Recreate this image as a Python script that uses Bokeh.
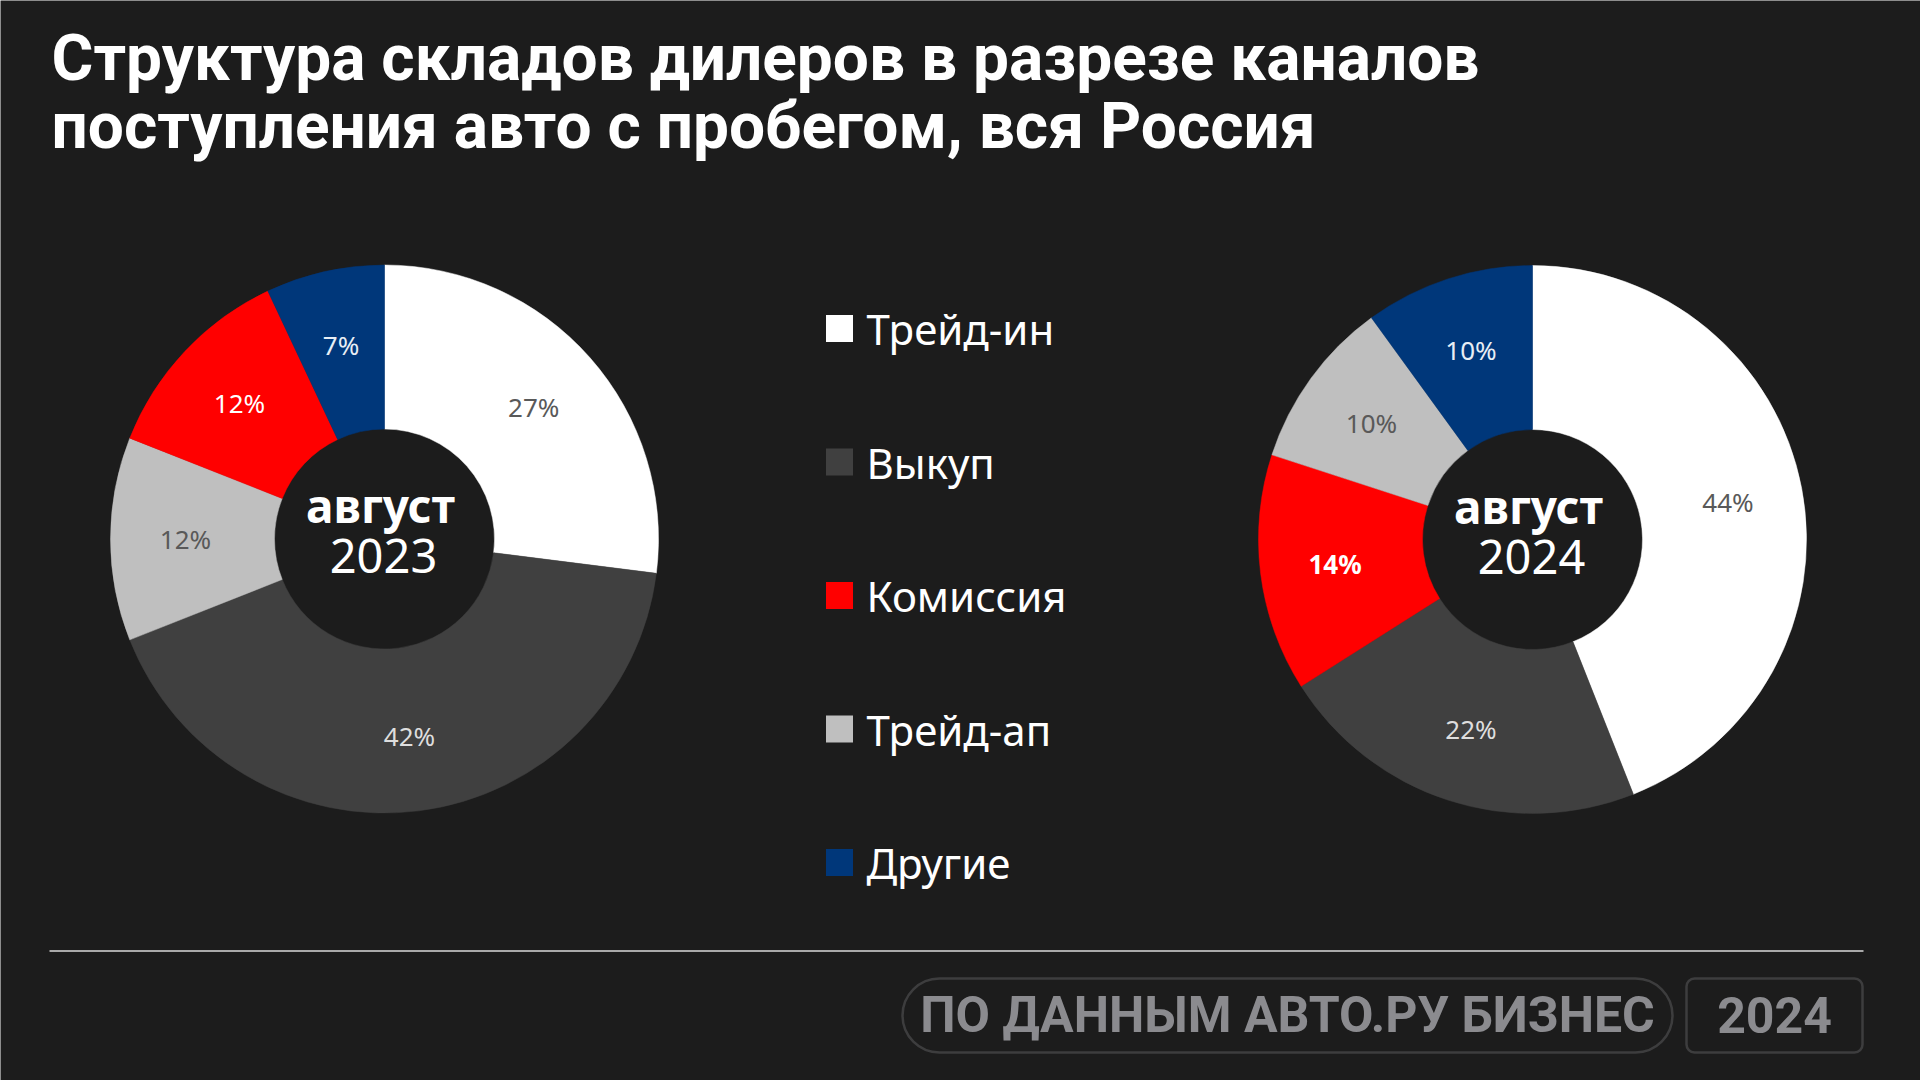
import numpy as np
from bokeh.core.properties import value
from bokeh.embed import file_html
from bokeh.models import BoxAnnotation, ColumnDataSource, Range1d
from bokeh.plotting import figure
from bokeh.resources import INLINE

# categories in legend order
categories = ["Трейд-ин", "Выкуп", "Комиссия", "Трейд-ап", "Другие"]
colors = ["#ffffff", "#404040", "#ff0000", "#bfbfbf", "#00377a"]
label_colors = ["#595959", "#dedede", "#ffffff", "#595959", "#e8eef5"]

# slices clockwise from 12 o'clock
order_2023 = ["Трейд-ин", "Выкуп", "Трейд-ап", "Комиссия", "Другие"]
share_2023 = [27, 42, 12, 12, 7]
order_2024 = ["Трейд-ин", "Выкуп", "Комиссия", "Трейд-ап", "Другие"]
share_2024 = [44, 22, 14, 10, 10]

periods = [("август", "2023"), ("август", "2024")]

title_lines = ["Структура складов дилеров в разрезе каналов",
               "поступления авто с пробегом, вся Россия"]
source_text = "ПО ДАННЫМ АВТО.РУ БИЗНЕС"
year_text = "2024"

W, H = 1920, 1080
BG = "#1c1c1c"
FONT = value("Noto Sans")
R_OUT, R_IN, R_LAB = 274, 110, 199


def X(px):
    return px


def Y(py):
    return H - py


p = figure(width=W, height=H, x_range=Range1d(0, W), y_range=Range1d(0, H),
           x_axis_location=None, y_axis_location=None,
           toolbar_location=None, output_backend="svg", min_border=0)
p.background_fill_color = BG
p.border_fill_color = BG
p.outline_line_color = None
p.xgrid.visible = False
p.ygrid.visible = False

# title (text anchored at the middle of the capitals)
p.text(x=[X(51), X(51)], y=[Y(58), Y(126)], text=title_lines,
       text_color="#ffffff", text_font=value("Roboto"), text_font_size="64px",
       text_font_style="bold", text_baseline="middle")


def donut(cx, cy, order, shares, period, bold_cat=None):
    frac = np.array(shares, dtype=float) / sum(shares)
    ends = np.cumsum(frac)
    starts = ends - frac
    mids = (starts + ends) / 2 * 2 * np.pi
    idx = [categories.index(c) for c in order]
    src = ColumnDataSource(dict(
        start=np.pi / 2 - 2 * np.pi * starts,
        end=np.pi / 2 - 2 * np.pi * ends,
        color=[colors[i] for i in idx],
        lx=cx + R_LAB * np.sin(mids),
        ly=cy + R_LAB * np.cos(mids),
        txt=[f"{s}%" for s in shares],
        tcol=[label_colors[i] for i in idx],
        weight=["bold" if c == bold_cat else "normal" for c in order],
    ))
    p.annular_wedge(x=cx, y=cy, inner_radius=R_IN, outer_radius=R_OUT,
                    start_angle="start", end_angle="end", direction="clock",
                    fill_color="color", line_color="color", line_width=0.5,
                    source=src)
    p.text(x="lx", y="ly", text="txt", text_color="tcol",
           text_font_style="weight", text_font=FONT, text_font_size="26px",
           text_align="center", text_baseline="middle", source=src)
    month, year = period
    p.text(x=[cx - 4], y=[cy + 34], text=[month],
           text_color="#ffffff", text_font=FONT, text_font_size="46px",
           text_font_style="bold", text_align="center",
           text_baseline="middle")
    p.text(x=[cx - 1], y=[cy - 17], text=[year],
           text_color="#ffffff", text_font=FONT, text_font_size="47px",
           text_align="center", text_baseline="middle")


donut(X(384), Y(538.5), order_2023, share_2023, periods[0])
donut(X(1532), Y(539), order_2024, share_2024, periods[1],
      bold_cat="Комиссия")

# legend
leg_y = [Y(328) - 133.5 * i for i in range(len(categories))]
p.rect(x=[X(839)] * len(categories), y=leg_y,
       width=27, height=27, fill_color=colors, line_color=None)
p.text(x=[X(866)] * len(categories), y=leg_y, text=categories,
       text_color="#ffffff", text_font=FONT, text_font_size="42px",
       text_baseline="middle")

# footer
p.line(x=[X(49), X(1863)], y=[Y(950.5), Y(950.5)],
       line_color="#d8d8d8", line_width=1.5)
p.add_layout(BoxAnnotation(left=X(902), right=X(1672), bottom=Y(1052),
                           top=Y(978), border_radius=37, fill_color=None,
                           line_color="#8b8b8f", line_width=2.5))
p.add_layout(BoxAnnotation(left=X(1686), right=X(1862), bottom=Y(1052),
                           top=Y(978), border_radius=8, fill_color=None,
                           line_color="#8b8b8f", line_width=2.5))
p.text(x=[X(1287), X(1774)], y=[Y(1014), Y(1014)],
       text=[source_text, year_text], text_color="#8b8b8f",
       text_font=value("Roboto"), text_font_size="50px",
       text_font_style="bold", text_align="center",
       text_baseline="middle")

open("out.html", "w").write(file_html(p, INLINE))
